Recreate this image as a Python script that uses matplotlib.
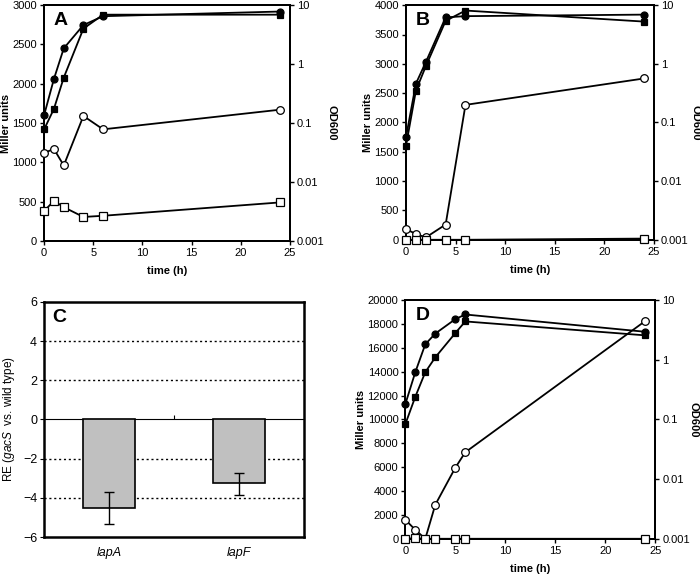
import matplotlib
matplotlib.use("Agg")
import matplotlib.pyplot as plt
import numpy as np

plt.rcParams['font.family'] = ['Liberation Sans', 'DejaVu Sans']
plt.rcParams['mathtext.fontset'] = 'custom'
plt.rcParams['mathtext.it'] = 'Liberation Sans:italic'
plt.rcParams['mathtext.rm'] = 'Liberation Sans'

# ---- Panel A ----
tA = [0, 1, 2, 4, 6, 24]
A_od_circ = [0.136, 0.56, 1.85, 4.6, 6.5, 7.8]
A_od_sq = [0.078, 0.174, 0.59, 4.0, 6.9, 6.9]
A_mu_circ = [1120, 1170, 960, 1590, 1420, 1670]
A_mu_sq = [380, 510, 430, 305, 320, 490]

# ---- Panel B ----
tB = [0, 1, 2, 4, 6, 24]
B_od_circ = [0.056, 0.46, 1.07, 6.2, 6.5, 6.9]
B_od_sq = [0.040, 0.35, 0.91, 5.4, 8.1, 5.25]
B_mu_circ = [180, 100, 40, 260, 2300, 2750]
B_mu_sq = [0, 0, 0, 0, 0, 20]

# ---- Panel D ----
tD = [0, 1, 2, 3, 5, 6, 24]
D_od_circ = [0.18, 0.62, 1.82, 2.75, 4.8, 5.75, 2.95]
D_od_sq = [0.083, 0.24, 0.62, 1.1, 2.8, 4.4, 2.57]
D_mu_circ = [1600, 750, 0, 2850, 5950, 7250, 18250]
D_mu_sq = [0, 50, 0, 0, 0, 0, 0]

# ---- Panel C ----
genes = ['lapA', 'lapF']
re_vals = [-4.5, -3.25]
re_err_low = [0.85, 0.6]
re_err_high = [0.8, 0.5]

fig = plt.figure(figsize=(7, 5.75), dpi=100)

FS = 8
LW = 1.3


def time_panel(rect, t, od_c, od_s, mu_c, mu_s, ymax, ystep, letter, rpad=9):
    ax = fig.add_axes(rect)
    ax2 = ax.twinx()
    ax.set_zorder(ax2.get_zorder() + 1)
    ax.patch.set_visible(False)
    kw = dict(color='black', lw=LW, clip_on=False, markeredgecolor='black', markeredgewidth=0.9)
    ax2.plot(t, od_c, marker='o', ms=5, markerfacecolor='black', **kw)
    ax2.plot(t, od_s, marker='s', ms=5, markerfacecolor='black', **kw)
    ax.plot(t, mu_c, marker='o', ms=5.5, markerfacecolor='white', zorder=3, **kw)
    ax.plot(t, mu_s, marker='s', ms=5.5, markerfacecolor='white', zorder=3, **kw)
    ax.set_xlim(0, 25)
    ax.set_ylim(0, ymax)
    ax.set_xticks(np.arange(0, 26, 5))
    ax.set_yticks(np.arange(0, ymax + 1, ystep))
    ax2.set_yscale('log')
    ax2.set_ylim(0.001, 10)
    ax2.set_yticks([0.001, 0.01, 0.1, 1, 10])
    ax2.set_yticklabels(['0.001', '0.01', '0.1', '1', '10'])
    ax2.yaxis.set_minor_locator(matplotlib.ticker.NullLocator())
    for a in (ax, ax2):
        a.tick_params(direction='out', length=3, width=1, labelsize=FS, colors='black', pad=2)
        for s in a.spines.values():
            s.set_linewidth(1.4)
    ax.set_xlabel('time (h)', fontsize=FS, fontweight='bold', labelpad=6)
    ax.set_ylabel('Miller units', fontsize=FS, fontweight='bold', labelpad=1)
    ax2.set_ylabel('OD600', fontsize=FS, fontweight='bold', rotation=270, labelpad=rpad)
    ax.text(0.04, 0.97, letter, transform=ax.transAxes, fontsize=14, fontweight='bold',
            va='top', ha='left')
    return ax


time_panel([0.063, 0.581, 0.351, 0.410], tA, A_od_circ, A_od_sq, A_mu_circ, A_mu_sq, 3000, 500, 'A')
time_panel([0.580, 0.583, 0.354, 0.408], tB, B_od_circ, B_od_sq, B_mu_circ, B_mu_sq, 4000, 500, 'B')
time_panel([0.579, 0.063, 0.357, 0.415], tD, D_od_circ, D_od_sq, D_mu_circ, D_mu_sq, 20000, 2000, 'D',
           rpad=6)

# Panel C
axc = fig.add_axes([0.063, 0.066, 0.371, 0.409])
x = np.arange(len(genes))
axc.bar(x, re_vals, width=0.4, color='#c0c0c0', edgecolor='black', linewidth=1.2, zorder=3)
axc.errorbar(x, re_vals, yerr=[re_err_low, re_err_high], fmt='none', ecolor='black',
             elinewidth=1, capsize=3.5, capthick=1, zorder=4)
axc.set_xlim(-0.5, 1.5)
axc.set_ylim(-6, 6)
axc.set_yticks(np.arange(-6, 7, 2))
for yv in [-4, -2, 2, 4]:
    axc.axhline(yv, color='black', ls=(0, (1.5, 2)), lw=1, zorder=1)
axc.set_xticks(x)
axc.set_xticklabels(genes, fontstyle='italic', fontsize=FS + 1)
axc.tick_params(axis='x', length=0, pad=7)
axc.tick_params(axis='y', direction='out', length=3, labelsize=FS + 1, pad=2)
for s in axc.spines.values():
    s.set_linewidth(1.8)
sec = axc.secondary_xaxis(0.5)
sec.set_xticks([0.5])
sec.set_xticklabels([''])
sec.tick_params(direction='out', length=3, width=0.8)
sec.spines['bottom'].set_linewidth(1)
axc.set_ylabel(r'RE ($\it{gacS}$  vs. wild type)', fontsize=FS + 0.5, labelpad=4)
axc.text(0.03, 0.97, 'C', transform=axc.transAxes, fontsize=14, fontweight='bold',
         va='top', ha='left')

fig.savefig('out.png', dpi=100)
